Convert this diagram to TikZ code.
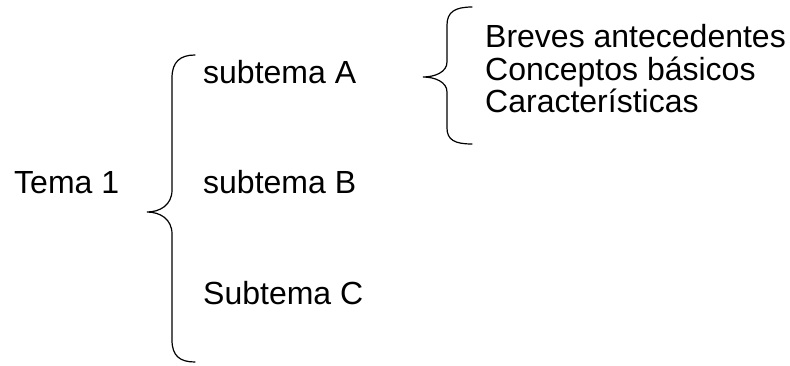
\documentclass[tikz,border=0pt]{standalone}
\usepackage{fontspec}
\setmainfont{Liberation Sans}
\usetikzlibrary{positioning}
\tikzset{
texto/.style={anchor=base west, inner sep=0pt, font=\fontsize{32}{34}\selectfont},
llave/.style={line width=1.2pt, line cap=round}
}

\begin{document}
\begin{tikzpicture}[x=1pt,y=-1pt]
\useasboundingbox (0,0) rectangle (790,365);
\node[texto] (tema) at (14,193) {Tema 1};
\node[texto] (subA) at (203,83) {subtema A};
\node[texto] (subB) at (203,193) {subtema B};
\node[texto] (subC) at (203,304) {Subtema C};
\node[texto] (breves) at (485,47) {Breves antecedentes};
\node[texto] (conceptos) at (485,80) {Conceptos básicos};
\node[texto] (caract) at (485,112) {Características};
% llave grande
\draw[llave] (195,55) .. controls (180,55) and (172,62) .. (172,78) -- (172,190)
  .. controls (172,205) and (160,212) .. (147,212)
  .. controls (160,212) and (172,219) .. (172,234) -- (172,340)
  .. controls (172,356) and (180,362) .. (195,362);
% llave chica
\draw[llave] (472,7) .. controls (455,7) and (447,12) .. (447,25) -- (447,62)
  .. controls (447,72) and (435,77) .. (423,77)
  .. controls (435,77) and (447,82) .. (447,92) -- (447,128)
  .. controls (447,140) and (455,144) .. (472,144);
\end{tikzpicture}
\end{document}
